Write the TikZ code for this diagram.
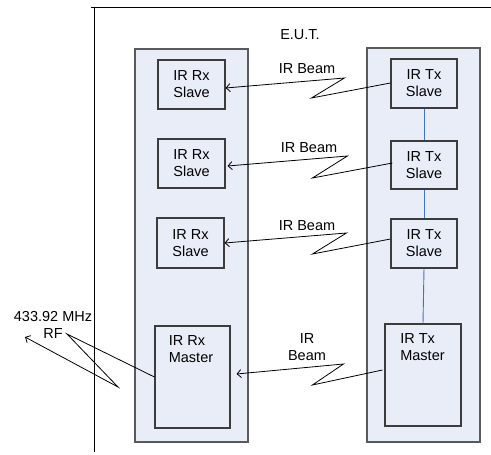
\documentclass[tikz,border=0pt]{standalone}
\usepackage{fontspec}
\setmainfont{Liberation Sans}
\usetikzlibrary{arrows.meta,positioning}
\definecolor{panelfill}{RGB}{232,237,247}
\definecolor{panelline}{RGB}{90,90,90}
\definecolor{boxline}{RGB}{60,60,60}
\definecolor{linkblue}{RGB}{68,114,196}

\begin{document}
\begin{tikzpicture}[x=1pt, y=-1pt,
    every node/.style={font=\fontsize{14.5}{17}\selectfont, inner sep=0pt},
    panel/.style={draw=panelline, fill=panelfill, line width=1.1pt},
    unit/.style={draw=boxline, fill=panelfill, line width=1.1pt, align=center},
    beam/.style={black, line width=0.8pt, -{Straight Barb[length=4pt,width=8pt]}},
    link/.style={linkblue, line width=0.9pt}]
    \useasboundingbox (0,0) rectangle (491,455);

    % E.U.T. boundary
    \draw[line width=0.9pt] (491,7) -- (91,7);
    \draw[line width=0.9pt] (94,7) -- (94,452);
    \node at (300,35) {E.U.T.};

    % Receiver and transmitter panels
    \draw[panel] (135,49) rectangle (248,442);
    \draw[panel] (367,48) rectangle (480,442);

    % Receiver units
    \node[unit, minimum width=67pt, minimum height=49pt] (rxA) at (191.5,84.5) {IR Rx\\Slave};
    \node[unit, minimum width=67pt, minimum height=49pt] (rxB) at (191.5,163.5) {IR Rx\\Slave};
    \node[unit, minimum width=67pt, minimum height=50pt] (rxC) at (190.5,243) {IR Rx\\Slave};
    \node[unit, minimum width=75pt, minimum height=102pt] (rxM) at (192.5,377) {};
    \node[align=left, anchor=north] at (191,335) {IR Rx\\Master};

    % Transmitter units
    \node[unit, minimum width=66pt, minimum height=49pt] (txA) at (424,83.5) {IR Tx\\Slave};
    \node[unit, minimum width=66pt, minimum height=48pt] (txB) at (424,165) {IR Tx\\Slave};
    \node[unit, minimum width=66pt, minimum height=49pt] (txC) at (424,243.5) {IR Tx\\Slave};
    \node[unit, minimum width=76pt, minimum height=102pt] (txM) at (423,375) {};
    \node[align=left, anchor=north] at (422.5,333) {IR Tx\\Master};

    % Wired links between transmitters
    \draw[link] (txA.south) -- (txB.north);
    \draw[link] (txB.south) -- (txC.north);
    \draw[link] (txC.south) -- (txM.north);

    % IR beams
    \draw[beam] ([yshift=0.5pt]txA.west) -- ++(-79,15) -- ++(33,-20) -- ([yshift=-3.5pt]rxA.east);
    \node at (307,69) {IR Beam};
    \draw[beam] ([xshift=2pt,yshift=2pt]txB.west) -- ++(-80,15) -- ++(35,-22) -- ([xshift=2pt,yshift=-2.5pt]rxB.east);
    \node at (309,148) {IR Beam};
    \draw[beam] ([yshift=4.5pt]txC.west) -- ++(-78,15) -- ++(34,-21) -- (rxC.east);
    \node at (307,226) {IR Beam};
    \draw[beam] ([xshift=-2pt,yshift=5pt]txM.west) -- ++(-70,15) -- ++(31,-21) -- ([xshift=6pt,yshift=3pt]rxM.east);
    \node[align=center] at (307,347) {IR\\Beam};

    % RF link
    \draw[beam] (rxM.west) -- (67,334) -- (118,387) -- (25,337);
    \node[align=center] at (53,325) {433.92 MHz\\RF};
\end{tikzpicture}
\end{document}
